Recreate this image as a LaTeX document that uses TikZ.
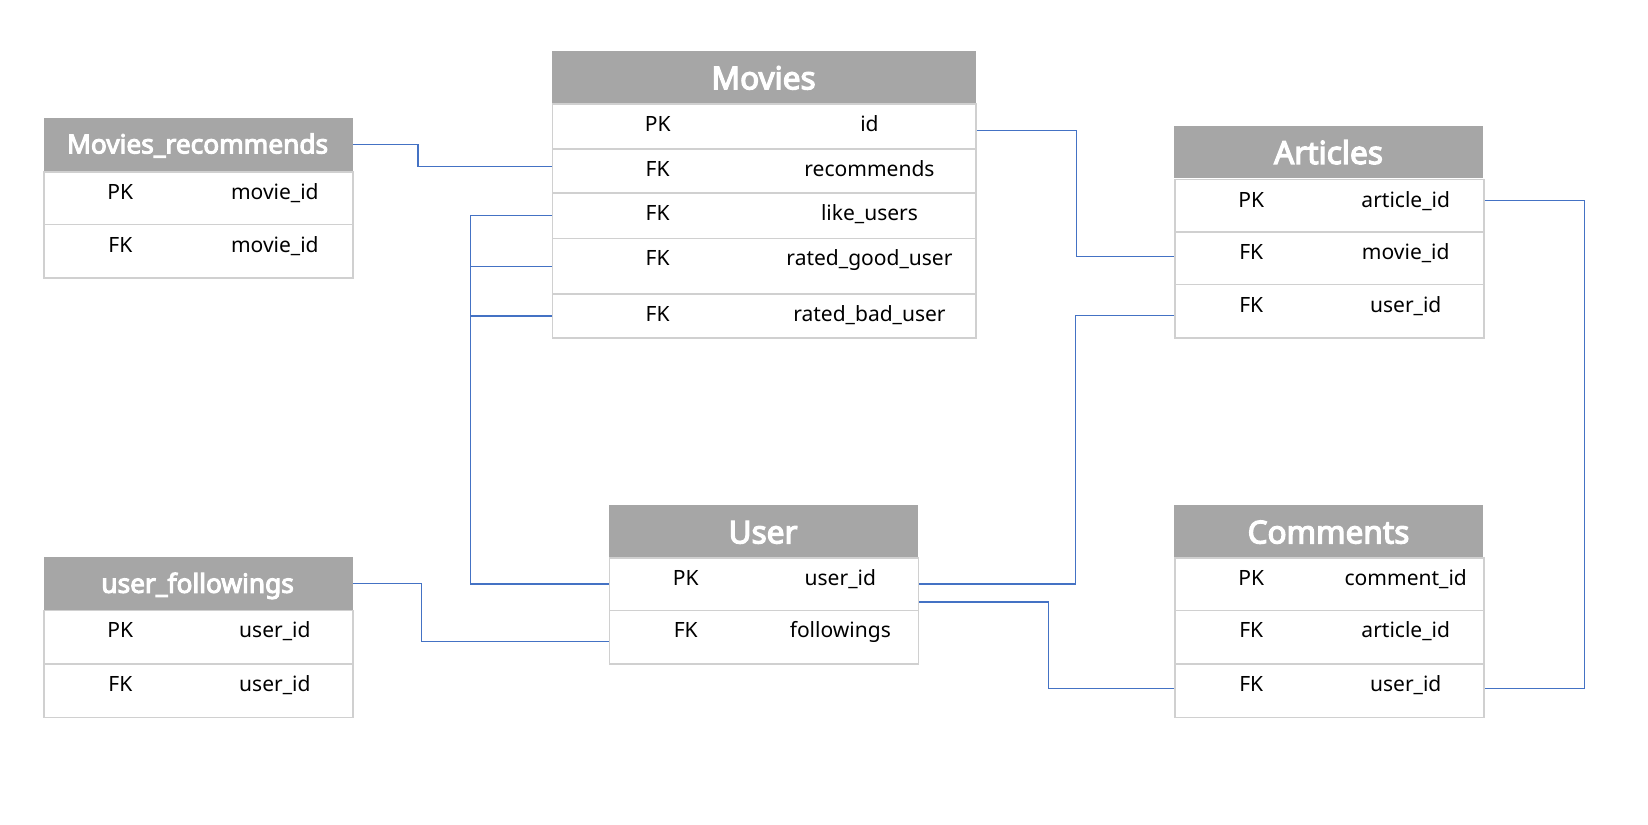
\documentclass[tikz,border=0pt]{standalone}
\usepackage{fontspec}
\setmainfont{Noto Sans}[AutoFakeBold=4]
\definecolor{hdrgray}{HTML}{A6A6A6}
\definecolor{cellline}{HTML}{D0D0D0}
\definecolor{connblue}{HTML}{4472C4}
\tikzset{
  hdr/.style={fill=hdrgray, draw=none, anchor=north west, inner sep=0pt, minimum height=25pt},
  cell/.style={fill=white, draw=cellline, line width=0.75pt, anchor=north west, inner sep=0pt},
  txt/.style={anchor=base, inner sep=0pt, font=\fontsize{10}{12}\selectfont},
  bigtitle/.style={anchor=base, inner sep=0pt, text=white, font=\fontsize{15}{18}\selectfont\bfseries},
  smalltitle/.style={anchor=base, inner sep=0pt, text=white, font=\fontsize{12.5}{15}\selectfont\bfseries},
  conn/.style={draw=connblue, line width=0.6pt}
}
% name, x, y, w, title style, baseline offset, title
\newcommand\erhead[7]{%
  \node[hdr, minimum width={#4*0.5pt}] (#1) at (#2,#3) {};
  \node[#5] (#1t) at ({#2+#4/2},{#3+#6}) {#7};
}
% name, x, y, w, h, key, field
\newcommand\errow[7]{%
  \node[cell, minimum width={#4*0.5pt}, minimum height={#5*0.5pt}] (#1) at (#2,#3) {};
  \node[txt] (#1k) at ({#2+#4/4},{#3+27}) {#6};
  \node[txt] (#1f) at ({#2+3*#4/4},{#3+27}) {#7};
}
\begin{document}
\begin{tikzpicture}[x=0.5pt,y=-0.5pt]
\useasboundingbox (0,0) rectangle (1568,784);
\fill[white] (0,0) rectangle (1568,784);

% Movies_recommends
\erhead{mrH}{41}{112}{294}{smalltitle}{34}{Movies\_recommends}
\errow{mrA}{41}{163}{294}{50}{PK}{movie\_id}
\errow{mrB}{41}{213}{294}{51}{FK}{movie\_id}

% Movies
\erhead{mvH}{525}{48}{403}{bigtitle}{37}{Movies}
\errow{mvA}{525}{98}{403}{43}{PK}{id}
\errow{mvB}{525}{141}{403}{42}{FK}{recommends}
\errow{mvC}{525}{183}{403}{43}{FK}{like\_users}
\errow{mvD}{525}{226}{403}{53}{FK}{rated\_good\_user}
\errow{mvE}{525}{279}{403}{42}{FK}{rated\_bad\_user}

% Articles
\erhead{arH}{1117}{119}{294}{bigtitle}{37}{Articles}
\errow{arA}{1117}{170}{294}{50}{PK}{article\_id}
\errow{arB}{1117}{220}{294}{50}{FK}{movie\_id}
\errow{arC}{1117}{270}{294}{51}{FK}{user\_id}

% User
\erhead{usH}{579}{480}{294}{bigtitle}{37}{User}
\errow{usA}{579}{530}{294}{50}{PK}{user\_id}
\errow{usB}{579}{580}{294}{51}{FK}{followings}

% Comments
\erhead{cmH}{1117}{480}{294}{bigtitle}{37}{Comments}
\errow{cmA}{1117}{530}{294}{50}{PK}{comment\_id}
\errow{cmB}{1117}{580}{294}{51}{FK}{article\_id}
\errow{cmC}{1117}{631}{294}{51}{FK}{user\_id}

% user_followings
\erhead{ufH}{41}{530}{294}{smalltitle}{34}{user\_followings}
\errow{ufA}{41}{580}{294}{51}{PK}{user\_id}
\errow{ufB}{41}{631}{294}{51}{FK}{user\_id}

% connectors
\draw[conn] (mrH.east) -- ++(62,0) |- ([yshift=2pt]mvB.west);
\draw[conn] (mvC.west) -- ++(-77,0) coordinate (jL) |- (usA.west);
\draw[conn] (mvD.west) -- (mvD.west -| jL);
\draw[conn] (mvE.west) -- (mvE.west -| jL);
\draw[conn] ([yshift=-2pt]mvA.east) -- ++(95,0) |- ([yshift=1pt]arB.west);
\draw[conn] ([yshift=-2pt]arC.west) -- ++(-94,0) |- (usA.east);
\draw[conn] ([yshift=-8.5pt]usA.east) -- ++(123,0) |- ([yshift=1pt]cmC.west);
\draw[conn] ([yshift=2.5pt]arA.east) -- ++(95,0) |- ([yshift=1pt]cmC.east);
\draw[conn] (ufH.east) -- ++(65,0) |- ([yshift=-2pt]usB.west);
\end{tikzpicture}
\end{document}
